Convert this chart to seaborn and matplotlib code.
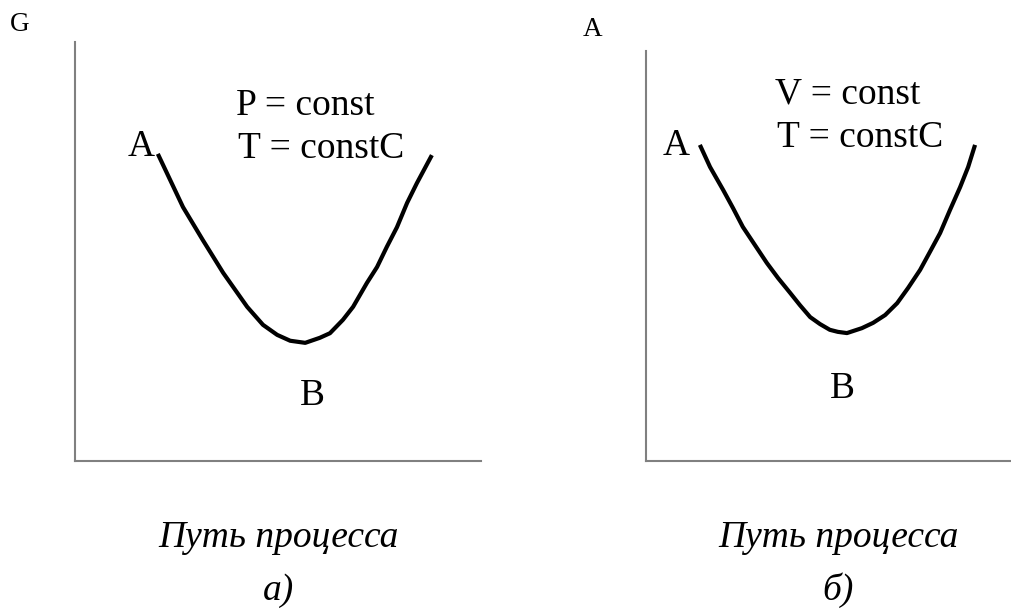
import matplotlib
matplotlib.use("Agg")
import seaborn as sns
from matplotlib import pyplot as plt

# Curve for panel a) (P = const), axis units 0..10
path_a = [2.04, 2.66, 3.15, 3.65, 4.24, 4.63, 4.98, 5.30, 5.67, 6.03,
          6.28, 6.60, 6.85, 7.19, 7.44, 7.68, 7.93, 8.18, 8.42, 8.79]
g_a = [7.33, 6.06, 5.27, 4.49, 3.68, 3.25, 3.01, 2.87, 2.82, 2.94,
       3.05, 3.37, 3.68, 4.25, 4.63, 5.11, 5.58, 6.16, 6.63, 7.30]

# Curve for panel b) (V = const)
path_b = [1.48, 1.76, 2.12, 2.39, 2.66, 2.99, 3.32, 3.63, 3.96, 4.23, 4.51, 4.78, 5.05, 5.27,
          5.52, 5.93, 6.24, 6.57, 6.90, 7.20, 7.53, 7.80, 8.08, 8.35, 8.63, 8.85, 9.04]
g_b = [7.71, 7.17, 6.61, 6.17, 5.71, 5.27, 4.83, 4.46, 4.10, 3.80, 3.51, 3.34, 3.20, 3.15,
       3.12, 3.24, 3.37, 3.56, 3.85, 4.22, 4.66, 5.10, 5.56, 6.12, 6.68, 7.17, 7.71]

W, H = 1011, 609

sns.set_theme(style="white")
plt.rcParams["font.family"] = ["Liberation Serif", "DejaVu Serif"]
plt.rcParams["text.color"] = "black"

fig = plt.figure(figsize=(W / 100, H / 100), dpi=100)


def px(x, y):
    return x / W, 1 - y / H


def make_axes(left, top, right, bottom):
    ax = fig.add_axes([left / W, 1 - bottom / H, (right - left) / W, (bottom - top) / H])
    ax.set_xlim(0, 10)
    ax.set_ylim(0, 10)
    sns.despine(ax=ax)
    for s in ("left", "bottom"):
        ax.spines[s].set_color("#808080")
        ax.spines[s].set_linewidth(1.5)
    ax.set_xticks([])
    ax.set_yticks([])
    ax.set_xlabel("")
    ax.set_ylabel("")
    ax.patch.set_alpha(0)
    return ax


line_kw = dict(sort=False, estimator=None, color="black", lw=3,
               solid_joinstyle="round", solid_capstyle="butt")

ax1 = make_axes(75, 42, 481, 461)
sns.lineplot(x=path_a, y=g_a, ax=ax1, **line_kw)

ax2 = make_axes(646, 51, 1010, 461)
sns.lineplot(x=path_b, y=g_b, ax=ax2, **line_kw)

fs = 27
# Panel a texts
fig.text(*px(10, 31), "G", fontsize=19.5, va="baseline")
fig.text(*px(236, 115), "P = const", fontsize=fs, va="baseline")
fig.text(*px(238, 158), "T = constC", fontsize=fs, va="baseline")
fig.text(*px(155, 156), "A", fontsize=fs, va="baseline", ha="right")
fig.text(*px(312, 396), "B", fontsize=fs, va="center", ha="center")
fig.text(*px(278, 547), "Путь процесса", fontsize=fs, style="italic", va="baseline", ha="center")
fig.text(*px(278, 600), "а)", fontsize=fs, style="italic", va="baseline", ha="center")

# Panel b texts
fig.text(*px(583, 36), "A", fontsize=19.5, va="baseline")
fig.text(*px(775, 103), "V = const", fontsize=fs, va="baseline")
fig.text(*px(777, 147), "T = constC", fontsize=fs, va="baseline")
fig.text(*px(690, 155), "A", fontsize=fs, va="baseline", ha="right")
fig.text(*px(842, 389), "B", fontsize=fs, va="center", ha="center")
fig.text(*px(838, 547), "Путь процесса", fontsize=fs, style="italic", va="baseline", ha="center")
fig.text(*px(838, 600), "б)", fontsize=fs, style="italic", va="baseline", ha="center")

fig.savefig("out.png", dpi=100, facecolor="white")
